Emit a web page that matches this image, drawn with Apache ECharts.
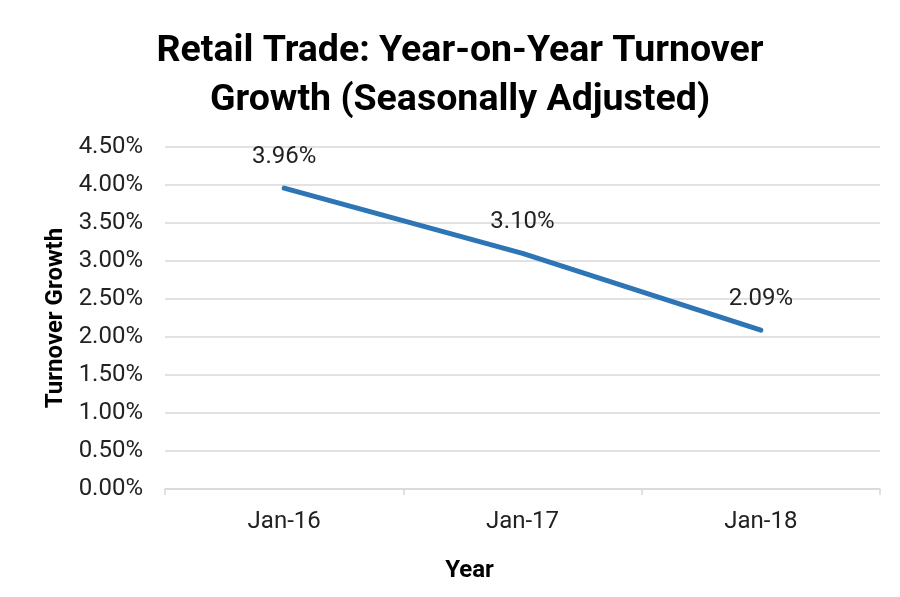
<!DOCTYPE html>
<html>
<head>
<meta charset="utf-8">
<script src="https://cdn.jsdelivr.net/npm/echarts@6/dist/echarts.min.js"></script>
<style>
  html, body { margin: 0; padding: 0; background: #fff; }
  #chart { width: 900px; height: 597px; }
</style>
</head>
<body>
<div id="chart"></div>
<script>
// Retail trade turnover growth, year on year
const categories = ['Jan-16', 'Jan-17', 'Jan-18'];
const growthValues = [3.96, 3.10, 2.09];
const yTicks = [0, 0.5, 1, 1.5, 2, 2.5, 3, 3.5, 4, 4.5];

const chart = echarts.init(document.getElementById('chart'), null, { renderer: 'canvas' });

chart.setOption({
  backgroundColor: '#ffffff',
  animation: false,
  textStyle: { fontFamily: 'Roboto' },
  title: {
    text: 'Retail Trade: Year-on-Year Turnover\nGrowth (Seasonally Adjusted)',
    left: 455,
    top: 22,
    textAlign: 'center',
    textStyle: {
      fontFamily: 'Roboto',
      fontSize: 37.5,
      fontWeight: 'bold',
      color: '#000000',
      lineHeight: 49
    }
  },
  grid: { left: 165, right: 20, top: 147, bottom: 108 },
  xAxis: {
    type: 'category',
    data: categories,
    boundaryGap: true,
    name: 'Year',
    nameLocation: 'middle',
    nameGap: 70,
    nameTextStyle: { fontSize: 24, fontWeight: 'bold', color: '#000', padding: [0, 106, 0, 0] },
    axisLine: { lineStyle: { color: '#d9d9d9', width: 1.5 } },
    axisTick: { show: true, length: 6, alignWithLabel: false, lineStyle: { color: '#d9d9d9', width: 1.5 } },
    axisLabel: { fontSize: 24, color: '#222', margin: 21 }
  },
  yAxis: {
    type: 'value',
    min: yTicks[0],
    max: yTicks[yTicks.length - 1],
    interval: 0.5,
    name: 'Turnover Growth',
    nameLocation: 'middle',
    nameGap: 96,
    nameTextStyle: { fontSize: 24, fontWeight: 'bold', color: '#000' },
    axisLine: { show: false },
    axisTick: { show: false },
    axisLabel: {
      fontSize: 24,
      color: '#222',
      margin: 22,
      formatter: v => v.toFixed(2) + '%'
    },
    splitLine: { lineStyle: { color: '#d9d9d9', width: 1.5 } }
  },
  series: [{
    type: 'line',
    data: growthValues,
    showSymbol: true,
    symbol: 'circle',
    symbolSize: 2,
    itemStyle: { color: '#2e75b6' },
    lineStyle: { color: '#2e75b6', width: 5, cap: 'round' },
    label: {
      show: true,
      position: 'top',
      distance: 18,
      fontSize: 24,
      color: '#222',
      formatter: p => p.value.toFixed(2) + '%'
    }
  }]
});
</script>
</body>
</html>
